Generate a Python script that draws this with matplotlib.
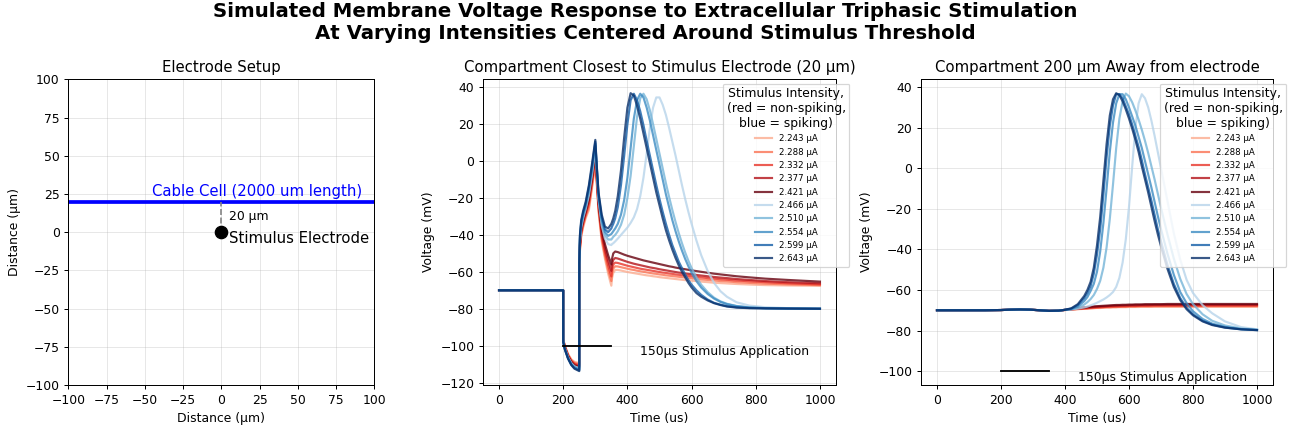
import numpy as np
import matplotlib
matplotlib.use("Agg")
import matplotlib.pyplot as plt

# ---------------- data ----------------
intensities = [2.243, 2.288, 2.332, 2.377, 2.421, 2.466, 2.510, 2.554, 2.599, 2.643]
spiking = [False, False, False, False, False, True, True, True, True, True]

# Middle panel: compartment closest to electrode
t_mid = [0, 199.9, 200, 205, 215, 225, 235, 249.9,
         250, 252, 256, 262, 270, 280, 290, 300,
         305, 310, 320, 330, 340, 349.9,
         352, 356, 362, 370, 380, 390, 400, 410, 420, 430, 440, 450, 460, 470,
         480, 490, 500, 510, 520, 530, 540, 550, 560, 570, 580, 590, 600,
         615, 630, 650, 670, 690, 710, 740, 780, 830, 900, 1000]

mid_2243 = [-70, -70, -96.5, -100, -104.5, -107.4, -108.8, -109.4,
            -62, -49, -41, -36, -31, -26.5, -14.5, -2,
            -14, -27.5, -43.5, -53, -61, -67.5,
            -63.5, -60.5, -59, -59, -59.3, -59.7, -60.1, -60.4, -60.7, -61, -61.3, -61.6, -61.9, -62.1,
            -62.4, -62.6, -62.9, -63.1, -63.3, -63.5, -63.7, -63.9, -64.1, -64.3, -64.5, -64.6, -64.8,
            -65, -65.3, -65.6, -65.9, -66.1, -66.3, -66.6, -66.9, -67.2, -67.4, -67.6]
mid_2288 = [-70, -70, -96.5, -100.2, -104.8, -107.8, -109.3, -110,
            -61, -48, -40, -35, -30, -25, -13, 0,
            -12.5, -26, -42, -51.5, -59, -65,
            -61, -58.2, -57, -57.1, -57.5, -57.9, -58.3, -58.7, -59, -59.4, -59.7, -60, -60.3, -60.6,
            -60.9, -61.1, -61.4, -61.6, -61.9, -62.1, -62.3, -62.5, -62.7, -62.9, -63.1, -63.3, -63.5,
            -63.8, -64.1, -64.4, -64.7, -65, -65.2, -65.6, -66, -66.4, -66.8, -67.2]
mid_2332 = [-70, -70, -97, -100.5, -105.2, -108.2, -109.8, -110.6,
            -61, -47, -39, -34, -29, -23, -11.5, 1.5,
            -11, -25, -40.5, -49.5, -56.5, -62.5,
            -58.5, -56, -55, -55.2, -55.7, -56.2, -56.7, -57.1, -57.5, -57.9, -58.3, -58.6, -58.9, -59.2,
            -59.5, -59.8, -60.1, -60.4, -60.6, -60.9, -61.1, -61.4, -61.6, -61.8, -62, -62.2, -62.4,
            -62.7, -63, -63.4, -63.7, -64, -64.3, -64.7, -65.1, -65.6, -66.2, -66.8]
mid_2377 = [-70, -70, -97, -100.8, -105.5, -108.6, -110.3, -111.2,
            -60, -46, -38, -33, -28, -21.5, -10, 3,
            -10, -23.5, -39, -47.5, -54, -59.5,
            -56, -53.5, -52.5, -52.8, -53.4, -54, -54.6, -55.1, -55.6, -56, -56.4, -56.8, -57.2, -57.6,
            -57.9, -58.2, -58.6, -58.9, -59.2, -59.5, -59.8, -60.1, -60.4, -60.6, -60.9, -61.1, -61.3,
            -61.7, -62, -62.4, -62.8, -63.1, -63.4, -63.9, -64.4, -65, -65.6, -66.2]
mid_2421 = [-70, -70, -97, -101, -105.8, -109, -110.8, -111.7,
            -59, -45, -37, -32, -27, -20, -8.5, 5,
            -8.5, -22, -37, -45, -51, -56,
            -53, -50, -49, -49.3, -50, -50.7, -51.3, -51.8, -52.3, -52.8, -53.3, -53.8, -54.2, -54.6,
            -55, -55.4, -55.8, -56.2, -56.6, -57, -57.3, -57.7, -58, -58.3, -58.6, -58.9, -59.2,
            -59.6, -60, -60.5, -61, -61.4, -61.8, -62.4, -63, -63.7, -64.4, -65.3]
mid_2466 = [-70, -70, -97.5, -101.3, -106.2, -109.4, -111.2, -112.2,
            -59, -44, -36, -31, -26, -18.5, -7, 7,
            -7, -21, -35, -42, -45, -45.5,
            -45, -44.5, -43.5, -42, -40, -38, -36, -33.5, -30.5, -26, -19, -9, 4, 18,
            29, 34.5, 34.5, 30.5, 25, 18, 10.5, 3, -5, -13, -20.5, -27.5, -34,
            -43, -51, -59.5, -66, -70.5, -73.5, -76.5, -78.3, -79.2, -79.7, -80]
mid_2510 = [-70, -70, -97.5, -101.5, -106.5, -109.7, -111.5, -112.6,
            -58, -43, -35, -30, -25, -17, -5.5, 8.5,
            -6, -20, -33.5, -40, -42.5, -42.5,
            -42, -41, -40, -38, -34.5, -29, -20, -8, 8, 24, 34, 36.5, 33.5, 27.5,
            20, 12, 4, -4, -12, -19.5, -26.5, -33, -39, -44.5, -49.5, -54, -58,
            -63, -67, -71, -74, -76, -77.3, -78.5, -79.3, -79.7, -79.9, -80]
mid_2554 = [-70, -70, -98, -101.8, -106.8, -110, -111.8, -113,
            -57, -42, -34, -29, -24, -15.5, -4, 9.5,
            -5, -19, -32, -38.5, -40.5, -39.5,
            -39, -38, -36.5, -34, -29, -21, -9, 7, 23, 33, 36.5, 34.5, 29, 22,
            14, 6, -2, -10, -18, -25, -32, -38, -43.5, -48.5, -53, -57, -60.5,
            -65, -68.5, -72, -74.5, -76.3, -77.5, -78.6, -79.3, -79.7, -79.9, -80]
mid_2599 = [-70, -70, -98, -102, -107, -110.3, -112.2, -113.4,
            -56, -41, -33, -28, -23, -14, -2.5, 10.5,
            -4, -18, -30.5, -37, -38.5, -36.5,
            -35.5, -34, -31, -25, -13, 3, 20, 33, 36.5, 33, 27, 19.5, 11, 3,
            -5, -13, -20.5, -27.5, -34, -40, -45.5, -50, -54.5, -58, -61.5, -64.5, -67,
            -70, -72.5, -75, -76.8, -77.8, -78.6, -79.2, -79.6, -79.8, -79.9, -80]
mid_2643 = [-70, -70, -98, -102, -107, -110.5, -112.5, -113.8,
            -55, -40, -32, -27, -22, -13, -1, 11.5,
            -4, -17, -29, -35.5, -36.5, -34,
            -33, -31, -27, -19, -5, 13, 29, 36.8, 35.5, 30, 23, 15, 7, -1,
            -9, -17, -24, -31, -37.5, -43, -48, -52.5, -56.5, -60, -63, -66, -68.5,
            -71.5, -73.5, -75.5, -77, -78, -78.8, -79.4, -79.7, -79.8, -79.9, -80]

# Right panel: compartment 200 um away
t_far = [0, 100, 150, 200, 230, 260, 290, 320, 350, 380,
         400, 420, 440, 460, 470, 480, 490, 500, 510, 520, 530, 540, 550, 560,
         570, 580, 590, 600, 610, 620, 630, 640, 650, 660, 670, 680, 690, 700,
         720, 740, 760, 780, 800, 830, 860, 900, 950, 1000]

far_2243 = [-70, -70, -70, -69.9, -69.7, -69.6, -69.7, -70, -70.3, -70.2,
            -69.9, -69.7, -69.5, -69.3, -69.2, -69.1, -69, -68.9, -68.9, -68.8, -68.7, -68.7, -68.6, -68.6,
            -68.5, -68.5, -68.5, -68.4, -68.4, -68.4, -68.4, -68.3, -68.3, -68.3, -68.3, -68.3, -68.3, -68.3,
            -68.3, -68.3, -68.3, -68.3, -68.3, -68.3, -68.3, -68.3, -68.3, -68.3]
far_2288 = [-70, -70, -70, -69.9, -69.7, -69.6, -69.7, -70, -70.3, -70.2,
            -69.9, -69.7, -69.4, -69.2, -69.1, -69, -68.9, -68.8, -68.7, -68.6, -68.5, -68.5, -68.4, -68.4,
            -68.3, -68.3, -68.3, -68.2, -68.2, -68.2, -68.1, -68.1, -68.1, -68.1, -68.1, -68, -68, -68,
            -68, -68, -68, -68, -68, -68, -68, -68, -68, -68]
far_2332 = [-70, -70, -70, -69.9, -69.7, -69.6, -69.7, -70, -70.3, -70.2,
            -69.8, -69.6, -69.3, -69.1, -69, -68.8, -68.7, -68.6, -68.5, -68.4, -68.3, -68.2, -68.2, -68.1,
            -68.1, -68, -68, -67.9, -67.9, -67.9, -67.8, -67.8, -67.8, -67.8, -67.7, -67.7, -67.7, -67.7,
            -67.7, -67.7, -67.7, -67.7, -67.7, -67.7, -67.7, -67.7, -67.7, -67.7]
far_2377 = [-70, -70, -70, -69.9, -69.7, -69.6, -69.7, -70, -70.3, -70.2,
            -69.8, -69.5, -69.2, -68.9, -68.7, -68.6, -68.4, -68.3, -68.2, -68.1, -68, -67.9, -67.8, -67.8,
            -67.7, -67.7, -67.6, -67.6, -67.5, -67.5, -67.5, -67.4, -67.4, -67.4, -67.4, -67.3, -67.3, -67.3,
            -67.3, -67.3, -67.3, -67.3, -67.3, -67.3, -67.3, -67.3, -67.3, -67.3]
far_2421 = [-70, -70, -70, -69.9, -69.7, -69.6, -69.7, -70, -70.3, -70.2,
            -69.8, -69.4, -69, -68.6, -68.4, -68.3, -68.1, -68, -67.9, -67.8, -67.7, -67.6, -67.5, -67.4,
            -67.4, -67.3, -67.3, -67.2, -67.2, -67.1, -67.1, -67.1, -67, -67, -67, -67, -67, -67,
            -66.9, -66.9, -66.9, -66.9, -66.9, -66.9, -66.9, -66.9, -66.9, -66.9]
far_2466 = [-70, -70, -70, -69.9, -69.7, -69.6, -69.7, -70, -70.3, -70.2,
            -69.8, -69.6, -69.2, -68.6, -68.2, -67.6, -67, -66.3, -65.5, -64.7, -63.7, -62.5, -61, -58.5,
            -54, -46.5, -35, -19, 1, 20, 32, 36.5, 34.5, 30, 23.5, 16, 8, 0,
            -16, -32, -45, -55, -61.5, -67.5, -71.5, -75.5, -78.3, -79.4]
far_2510 = [-70, -70, -70, -69.9, -69.7, -69.6, -69.7, -70, -70.3, -70.2,
            -69.8, -69.5, -68.8, -67.2, -66, -64.5, -62.5, -59.5, -55.5, -49, -39, -25, -8, 10,
            24.5, 33, 36.8, 35.5, 32.5, 28.5, 24, 19, 13.5, 7.5, 1, -5.5, -12.5, -19.5,
            -32.5, -44.5, -54.5, -62, -67, -72, -75.2, -77.5, -79, -79.6]
far_2554 = [-70, -70, -70, -69.9, -69.7, -69.6, -69.7, -70, -70.3, -70.2,
            -69.8, -69.4, -68.2, -65.5, -63.5, -60.5, -57, -51, -41, -27, -10, 8, 22.5, 32,
            36.5, 36.5, 34, 30, 25.5, 21, 15.5, 10, 3.5, -3, -9.5, -16.5, -23.5, -30,
            -42, -52.5, -61, -66.5, -70.5, -74.3, -76.6, -78.2, -79.3, -79.7]
far_2599 = [-70, -70, -70, -69.9, -69.7, -69.6, -69.7, -70, -70.3, -70.2,
            -69.8, -69.2, -67.5, -64, -61.5, -58, -52, -42.5, -30, -13, 5.5, 21, 31, 36.5,
            36.5, 34.5, 30.5, 26.5, 21.5, 16, 10.5, 4, -3, -9.5, -16, -23, -30, -36,
            -47.5, -57, -64, -68.8, -72, -75.2, -77.1, -78.5, -79.4, -79.8]
far_2643 = [-70, -70, -70, -69.9, -69.7, -69.6, -69.7, -70, -70.3, -70.2,
            -69.8, -69, -67, -63, -60, -56, -49, -38, -24, -6, 12, 26, 34, 37,
            36, 33, 29, 24.5, 19.5, 14, 8, 1, -5.5, -12, -19, -26, -32.5, -38.5,
            -49.5, -58.5, -65, -69.5, -72.5, -75.5, -77.3, -78.6, -79.4, -79.8]

mid_traces = [mid_2243, mid_2288, mid_2332, mid_2377, mid_2421,
              mid_2466, mid_2510, mid_2554, mid_2599, mid_2643]
far_traces = [far_2243, far_2288, far_2332, far_2377, far_2421,
              far_2466, far_2510, far_2554, far_2599, far_2643]

stim_window = [200, 350]
stim_bar_level = -100
setup_ticks = [-100, -75, -50, -25, 0, 25, 50, 75, 100]

# ---------------- figure ----------------
W, H = 1291, 431
DPI = 89
fig = plt.figure(figsize=(W / DPI, H / DPI), dpi=DPI)

def ax_at(x0, x1, y0, y1):
    return fig.add_axes([x0 / W, 1 - y1 / H, (x1 - x0) / W, (y1 - y0) / H])

ax0 = ax_at(68.3, 374.3, 79.3, 385)
ax1 = ax_at(483, 836, 79.3, 385)
ax2 = ax_at(921, 1273, 79.3, 385)

fig.suptitle("Simulated Membrane Voltage Response to Extracellular Triphasic Stimulation\n"
             "At Varying Intensities Centered Around Stimulus Threshold",
             fontsize=16, fontweight="bold", y=0.995)

# Left: electrode setup
ax0.axhline(20, color="blue", lw=3)
ax0.text(-45, 22, "Cable Cell (2000 um length)", color="blue", fontsize=12, va="bottom")
ax0.plot([0, 0], [0, 20], ls="--", color="gray", lw=1.3)
ax0.plot([0], [0], "o", color="black", ms=10)
ax0.text(5, 10, "20 µm", fontsize=10, va="center")
ax0.text(5, -4, "Stimulus Electrode", fontsize=12, va="center")
ax0.set_xlim(-100, 100)
ax0.set_ylim(-100, 100)
ax0.set_xticks(setup_ticks)
ax0.set_yticks(setup_ticks)
ax0.set_xlabel("Distance (µm)")
ax0.set_ylabel("Distance (µm)")
ax0.set_title("Electrode Setup")
ax0.grid(True, alpha=0.3)

reds = plt.cm.Reds(np.linspace(0.3, 1.0, 5))
blues = plt.cm.Blues(np.linspace(0.3, 1.0, 5))
colors = list(reds) + list(blues)

def draw_traces(ax, t, traces, title):
    for val, tr, c in zip(intensities, traces, colors):
        ax.plot(t, tr, color=c, lw=1.75, alpha=0.8, label=f"{val:.3f} µA")
    ax.plot(stim_window, [stim_bar_level, stim_bar_level], color="black", lw=1.5)
    ax.text(440, -103, "150µs Stimulus Application", fontsize=10, va="center")
    ax.set_xlabel("Time (us)")
    ax.set_ylabel("Voltage (mV)")
    ax.set_title(title)
    ax.grid(True, alpha=0.3)
    leg = ax.legend(title="Stimulus Intensity,\n(red = non-spiking,\nblue = spiking)",
                    fontsize=7, title_fontsize=10, loc="upper right",
                    bbox_to_anchor=(1.05, 1.0))
    leg.get_title().set_multialignment("center")

draw_traces(ax1, t_mid, mid_traces, "Compartment Closest to Stimulus Electrode (20 µm)")
draw_traces(ax2, t_far, far_traces, "Compartment 200 µm Away from electrode")

fig.savefig("out.png", dpi=DPI)
